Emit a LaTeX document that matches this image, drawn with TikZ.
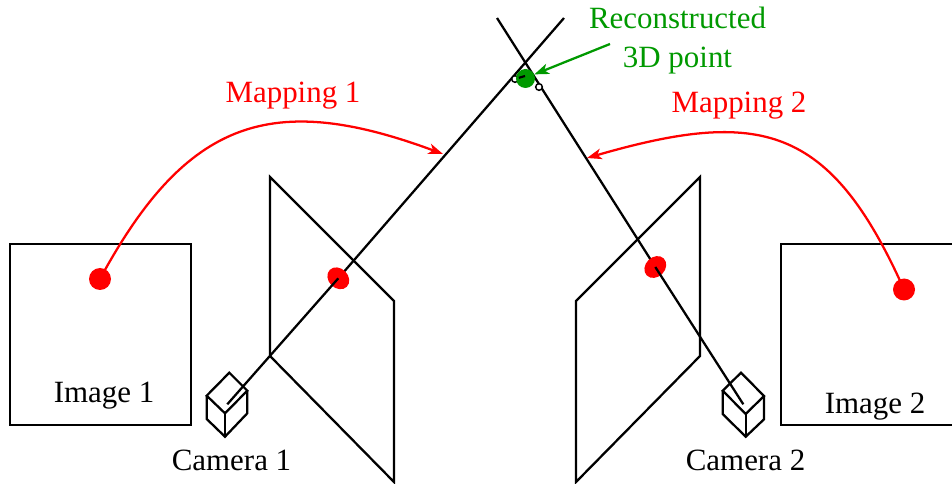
\documentclass[tikz,border=0pt]{standalone}
\usepackage{fontspec}
\setmainfont{Liberation Serif}
\usetikzlibrary{arrows.meta}
\definecolor{gr}{RGB}{0,153,0}
\tikzset{
  ln/.style={draw=black,line width=1.7pt,line join=miter},
  lbl/.style={font=\fontsize{23.2}{26}\selectfont,inner sep=0pt,anchor=base},
  redl/.style={lbl,text=red},
  grnl/.style={lbl,text=gr},
  redarc/.style={draw=red,line width=1.7pt,-{Stealth[length=11pt,width=8pt,inset=3pt]}},
  grnarc/.style={draw=gr,line width=1.7pt,-{Stealth[length=11pt,width=8pt,inset=3pt]}},
  rdot/.style={fill=red,draw=none,circle,minimum size=16.5pt,inner sep=0pt},
  gdot/.style={fill=gr,draw=none,circle,minimum size=14.25pt,inner sep=0pt},
  sdot/.style={fill=white,draw=black,line width=1.1pt,circle,minimum size=5pt,inner sep=0pt}
}
\begin{document}
\begin{tikzpicture}[x=0.75pt,y=-0.75pt]
\useasboundingbox (0,0) rectangle (952,484);
\clip (0,0) rectangle (952,484);
% coordinates
\coordinate (ray1a) at (227.3,404.3);
\coordinate (ray1b) at (564,18);
\coordinate (ray2a) at (743.3,404.3);
\coordinate (ray2b) at (497,18);
\coordinate (e1) at (338.3,278.3);
\coordinate (e2) at (655.3,267);
% images
\draw[ln] (10,244) rectangle (191,425);
\draw[ln] (781,244) rectangle (970,425);
% planes
\draw[ln] (270,177) -- (394,301) -- (394,482) -- (270,356) -- cycle;
\draw[ln] (700,177) -- (576,301) -- (576,482) -- (700,356) -- cycle;
% far parts of the rays, behind the dots
\draw[ln] (e1) -- (ray1b);
\draw[ln] (e2) -- (ray2b);
% dots
\node[rdot] (d1) at (100,279) {};
\node[rdot] (d2) at (904,289.5) {};
\fill[red,shift={(e1)},rotate=-45] (0,0) ellipse [x radius=9pt,y radius=7.3pt];
\fill[red,shift={(e2)},rotate=45] (0,0) ellipse [x radius=9pt,y radius=7.3pt];
% near parts of the rays, in front of the image-plane dots
\draw[ln] (ray1a) -- (e1);
\draw[ln] (ray2a) -- (e2);
% small marks near the 3D point
\node[sdot] (s1) at (515,79) {};
\node[sdot] (s2) at (539,87) {};
% green point
\node[gdot] (g) at (525.5,78.5) {};
\draw[draw=black,line width=1.6pt] (s1) -- (525,76);
% camera 1
\coordinate (c1t) at (229.3,372.7);
\coordinate (c1l) at (206.7,395.7);
\coordinate (c1r) at (247.3,390.7);
\coordinate (c1c) at (225,413.3);
\coordinate (c1lb) at (206.7,419);
\coordinate (c1rb) at (247.3,413.3);
\coordinate (c1b) at (225,436.7);
\draw[ln] (c1t) -- (c1r) -- (c1c) -- (c1l) -- cycle;
\draw[ln] (c1l) -- (c1lb) -- (c1b) -- (c1rb) -- (c1r);
\draw[ln] (c1c) -- (c1b);
% camera 2
\coordinate (c2t) at (741,372.7);
\coordinate (c2l) at (722.7,390.7);
\coordinate (c2r) at (764,396);
\coordinate (c2c) at (745.7,414);
\coordinate (c2lb) at (722.7,414);
\coordinate (c2rb) at (764,419.3);
\coordinate (c2b) at (745.7,436.7);
\draw[ln] (c2t) -- (c2r) -- (c2c) -- (c2l) -- cycle;
\draw[ln] (c2l) -- (c2lb) -- (c2b) -- (c2rb) -- (c2r);
\draw[ln] (c2c) -- (c2b);
% mappings
\coordinate (m1) at (443,154);
\coordinate (m2) at (587,158);
\coordinate (ga) at (610,44);
\draw[redarc] (d1.center) .. controls (187,118) and (273,91) .. (m1);
\draw[redarc] (d2.center) .. controls (830,124) and (760,108) .. (m2);
\draw[grnarc] (ga) -- (g.25);
% labels
\node[lbl] (i1) at (104,402) {Image 1};
\node[lbl] (i2) at (875,413) {Image 2};
\node[lbl] (c1) at (231.5,470) {Camera 1};
\node[lbl] (c2) at (745.5,470) {Camera 2};
\node[redl] (l1) at (293,103) {Mapping 1};
\node[redl] (l2) at (739,112.5) {Mapping 2};
\node[grnl] (r1) at (677.5,29) {Reconstructed};
\node[grnl] (r2) at (677.5,68) {3D point};
\end{tikzpicture}
\end{document}
